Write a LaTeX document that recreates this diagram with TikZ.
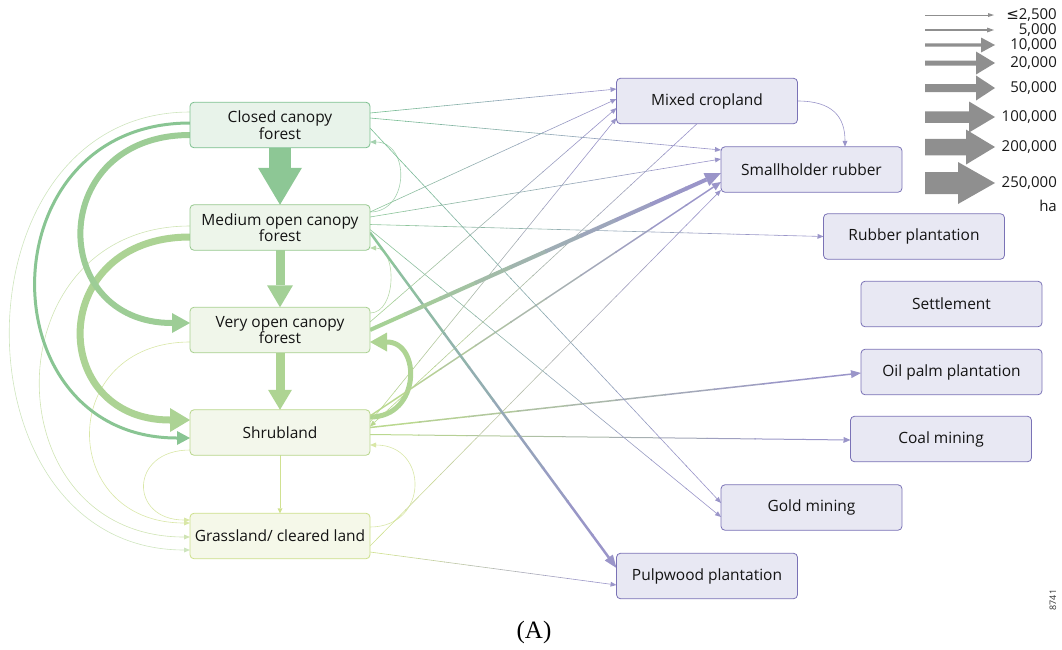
\documentclass[tikz,border=0pt]{standalone}
\usepackage{fontspec}
\setmainfont{Open Sans}
\newfontfamily\dejavu{DejaVu Sans}
\newfontfamily\serifA{Liberation Serif}
\usetikzlibrary{arrows.meta,calc}
\pgfdeclarelayer{bg}
\pgfsetlayers{bg,main}

\definecolor{purp}{HTML}{9A95C9}
\definecolor{pborder}{HTML}{7A72B6}
\definecolor{pfill}{HTML}{E8E8F3}
\definecolor{ccB}{HTML}{7CC08F}\definecolor{ccF}{HTML}{E8F3EA}
\definecolor{moB}{HTML}{96C88E}\definecolor{moF}{HTML}{EDF5EA}
\definecolor{voB}{HTML}{A8D08F}\definecolor{voF}{HTML}{F0F6EA}
\definecolor{shB}{HTML}{B8D68B}\definecolor{shF}{HTML}{F3F7EB}
\definecolor{glB}{HTML}{CCDF8A}\definecolor{glF}{HTML}{F5F8E9}
\definecolor{ccL}{HTML}{79BE94}
\definecolor{moL}{HTML}{8DC59B}
\definecolor{voL}{HTML}{A6D196}
\definecolor{shL}{HTML}{BAD88F}
\definecolor{glL}{HTML}{D0E191}
\definecolor{legG}{HTML}{8F8F8F}

% gradient straight connector: start, end, width, tip length, tip width, colour from, colour to
\newcommand\gline[7]{%
  \foreach \i in {0,...,8}{%
    \pgfmathsetmacro\ta{0.1*\i}%
    \pgfmathsetmacro\tb{0.1*\i+0.103}%
    \pgfmathtruncatemacro\pc{100-12*\i}%
    \draw[line width=#3,draw={#6!\pc!#7}] ($(#1)!\ta!(#2)$) -- ($(#1)!\tb!(#2)$);}%
  \draw[line width=#3,draw=#7,-{Triangle[length=#4,width=#5,line width=0pt]}] ($(#1)!0.9!(#2)$) -- (#2);}
% curved connector: start, end, horizontal offset of controls, width, tip length, tip width, colour
\newcommand\gcurve[7]{%
  \draw[line width=#4,draw=#7,-{Triangle[length=#5,width=#6,line width=0pt]}]
    (#1) .. controls ($(#1)+(#3,0)$) and ($(#2)+(#3,0)$) .. (#2);}
% legend arrow: y, shaft, head length, head width
\newcommand\legarrow[4]{%
  \fill[legG] (925,#1-#2/2) -- (995-#3,#1-#2/2) -- (995-#3,#1-#4/2) -- (995,#1)
    -- (995-#3,#1+#4/2) -- (995-#3,#1+#2/2) -- (925,#1+#2/2) -- cycle;}

\begin{document}
\begin{tikzpicture}[x=1pt,y=-1pt,
  lbox/.style={draw, rounded corners=4pt, minimum width=180pt, minimum height=45.5pt,
    inner sep=0pt, outer sep=0pt, align=center, line width=0.8pt,
    font=\fontsize{15.5}{13.5}\selectfont, text=black!92},
  rbox/.style={lbox, draw=pborder, fill=pfill, minimum width=181pt},
  legtxt/.style={anchor=east, inner sep=0pt, font=\fontsize{15}{15}\selectfont, text=black!90}]
\useasboundingbox (0,0) rectangle (1062,649);

% land-cover boxes
\node[lbox, draw=ccB, fill=ccF] (cc) at (280,125) {Closed canopy\\forest};
\node[lbox, draw=moB, fill=moF] (mo) at (280,227.5) {Medium open canopy\\forest};
\node[lbox, draw=voB, fill=voF] (vo) at (280,330) {Very open canopy\\forest};
\node[lbox, draw=shB, fill=shF] (sh) at (280,432.5) {Shrubland};
\node[lbox, draw=glB, fill=glF] (gl) at (280,536) {Grassland/ cleared land};

% land-use boxes
\node[rbox] (mc) at (707,101) {Mixed cropland};
\node[rbox] (sr) at (811.5,169.5) {Smallholder rubber};
\node[rbox] (rp) at (914,236.5) {Rubber plantation};
\node[rbox] (se) at (951.5,304) {Settlement};
\node[rbox] (op) at (951.5,372) {Oil palm plantation};
\node[rbox] (cm) at (941,439) {Coal mining};
\node[rbox] (gm) at (811.5,507.5) {Gold mining};
\node[rbox] (pp) at (707,576) {Pulpwood plantation};

% connector end points
\coordinate (l1a) at ($(cc.east)+(0,-12)$);   \coordinate (l1b) at ($(mc.west)+(0,-12)$);
\coordinate (l2a) at ($(mo.east)+(0,-15.5)$); \coordinate (l2b) at ($(mc.west)+(0,-2)$);
\coordinate (l3a) at ($(vo.east)+(0,-8)$);    \coordinate (l3b) at ($(mc.west)+(0,7)$);
\coordinate (l4a) at ($(sh.east)+(0,-10.5)$); \coordinate (l4b) at ($(mc.west)+(0,17)$);
\coordinate (l5a) at ($(cc.east)+(0,-7)$);    \coordinate (l5b) at ($(sr.west)+(0,-19.5)$);
\coordinate (l6a) at ($(mo.east)+(0,-10.5)$); \coordinate (l6b) at ($(sr.west)+(0,-10.5)$);
\coordinate (l7a) at ($(vo.east)+(0,0)$);     \coordinate (l7b) at ($(sr.west)+(0,3.5)$);
\coordinate (l8a) at ($(sh.east)+(0,-16.5)$); \coordinate (l8b) at ($(sr.west)+(0,12.5)$);
\coordinate (l9a) at ($(gl.east)+(0,10)$);    \coordinate (l9b) at ($(sr.west)+(0,20.5)$);
\coordinate (l10a) at ($(mo.east)+(0,-3)$);   \coordinate (l10b) at ($(rp.west)+(0,0)$);
\coordinate (l11a) at ($(sh.east)+(0,-5)$);   \coordinate (l11b) at ($(op.west)+(0,1)$);
\coordinate (l12a) at ($(sh.east)+(0,2)$);    \coordinate (l12b) at ($(cm.west)+(0,1)$);
\coordinate (l13a) at ($(cc.east)+(0,3)$);    \coordinate (l13b) at ($(gm.west)+(0,-4.5)$);
\coordinate (l14a) at ($(mo.east)+(0,2)$);    \coordinate (l14b) at ($(gm.west)+(0,9.5)$);
\coordinate (l15a) at ($(mo.east)+(0,5)$);    \coordinate (l15b) at ($(pp.west)+(0,-8)$);
\coordinate (l16a) at ($(gl.east)+(0,16)$);   \coordinate (l16b) at ($(pp.west)+(0,9)$);
\coordinate (l17a) at ($(mc.south)+(-10,0)$); \coordinate (l17b) at ($(sh.east)+(0,-6)$);
\coordinate (msa) at (mc.east);               \coordinate (msb) at ($(sr.north)+(33.5,0)$);

\coordinate (ha) at ($(mo.east)+(0,-15.5)$);  \coordinate (hb) at ($(cc.east)+(0,17)$);
\coordinate (ia) at ($(vo.east)+(0,-17)$);    \coordinate (ib) at ($(mo.east)+(0,20.5)$);
\coordinate (ja) at ($(sh.east)+(0,-15.5)$);  \coordinate (jb) at ($(vo.east)+(0,12)$);
\coordinate (ka) at ($(gl.east)+(0,-9)$);     \coordinate (kb) at ($(sh.east)+(0,12.5)$);

\coordinate (aa) at ($(cc.west)+(0,10)$);     \coordinate (ab) at ($(vo.west)+(0,-7)$);
\coordinate (ba) at ($(cc.west)+(0,-2)$);     \coordinate (bb) at ($(sh.west)+(0,5.5)$);
\coordinate (ca) at ($(cc.west)+(0,-13)$);    \coordinate (cb) at ($(gl.west)+(0,14)$);
\coordinate (da) at ($(mo.west)+(0,9.5)$);    \coordinate (db) at ($(sh.west)+(0,-12.5)$);
\coordinate (ea) at ($(mo.west)+(0,-1.5)$);   \coordinate (eb) at ($(gl.west)+(0,1)$);
\coordinate (fa) at ($(vo.west)+(0,12)$);     \coordinate (fb) at ($(gl.west)+(0,-13)$);
\coordinate (ga) at ($(sh.west)+(0,17.5)$);   \coordinate (gb) at ($(gl.west)+(0,-16)$);

\begin{pgfonlayer}{bg}
% vertical flows
\draw[line width=22pt, draw=ccL!55!voL, -{Triangle[length=37pt,width=44pt,line width=0pt]}] (cc.south) -- (mo.north);
\draw[line width=9pt, draw=voL!90!moL, -{Triangle[length=22pt,width=26pt,line width=0pt]}] (mo.south) -- (vo.north);
\draw[line width=9pt, draw=voL!60!shL, -{Triangle[length=20pt,width=24pt,line width=0pt]}] (vo.south) -- (sh.north);
\draw[line width=0.8pt, draw=glL, -{Triangle[length=5pt,width=5pt,line width=0pt]}] (sh.south) -- (gl.north);

% left curves
\gcurve{ca}{cb}{-240}{0.6pt}{6pt}{5pt}{glL!60!ccL!60!white}
\gcurve{ea}{eb}{-200}{0.6pt}{6pt}{5pt}{glL!70!moL!70!white}
\gcurve{fa}{fb}{-133}{0.6pt}{6pt}{5pt}{glL!80!white}
\gcurve{ga}{gb}{-61}{0.6pt}{6pt}{5pt}{glL!80!white}
\gcurve{ba}{bb}{-205}{3pt}{13pt}{14pt}{ccL!75!shL}
\gcurve{da}{db}{-143}{7pt}{20pt}{24pt}{voL!70!shL}
\gcurve{aa}{ab}{-143}{6pt}{18pt}{20pt}{voL!80!ccL}

% right curves
\gcurve{ha}{hb}{40}{0.6pt}{6pt}{5pt}{moL!80!white}
\gcurve{ia}{ib}{27}{0.6pt}{6pt}{5pt}{voL!80!white}
\gcurve{ka}{kb}{59}{0.6pt}{6pt}{5pt}{glL!80!white}
\gcurve{ja}{jb}{51}{5pt}{17pt}{19pt}{voL!60!shL}

\draw[line width=0.6pt, draw=purp, -{Triangle[length=6pt,width=5pt,line width=0pt]}]
  (msa) .. controls ($(msa)+(35,0)$) and ($(msb)+(0,-30)$) .. (msb);

% straight flows to land uses
\gline{l1a}{l1b}{0.6pt}{6pt}{5pt}{ccL}{purp}
\gline{l2a}{l2b}{0.6pt}{6pt}{5pt}{moL}{purp}
\gline{l3a}{l3b}{0.6pt}{6pt}{5pt}{voL}{purp}
\gline{l4a}{l4b}{0.6pt}{6pt}{5pt}{shL}{purp}
\gline{l5a}{l5b}{0.6pt}{6pt}{5pt}{ccL}{purp}
\gline{l6a}{l6b}{0.6pt}{6pt}{5pt}{moL}{purp}
\gline{l8a}{l8b}{1.5pt}{9pt}{8pt}{shL}{purp}
\gline{l9a}{l9b}{0.6pt}{6pt}{5pt}{glL}{purp}
\gline{l10a}{l10b}{0.6pt}{6pt}{5pt}{moL}{purp}
\gline{l11a}{l11b}{1.5pt}{10pt}{8pt}{shL}{purp}
\gline{l12a}{l12b}{1pt}{7pt}{6pt}{shL}{purp}
\gline{l13a}{l13b}{0.6pt}{6pt}{5pt}{ccL}{purp}
\gline{l14a}{l14b}{0.6pt}{6pt}{5pt}{moL}{purp}
\gline{l16a}{l16b}{0.6pt}{6pt}{5pt}{glL}{purp}
\gline{l17a}{l17b}{0.6pt}{6pt}{5pt}{purp}{shL}
\gline{l15a}{l15b}{2.5pt}{13pt}{10pt}{moL}{purp}
\gline{l7a}{l7b}{4pt}{16pt}{14pt}{voL}{purp}
\end{pgfonlayer}

% legend
\draw[legG, line width=0.7pt, -{Triangle[length=6pt,width=4pt,line width=0pt]}] (925,15) -- (994,15);
\draw[legG, line width=1.2pt, -{Triangle[length=7pt,width=5pt,line width=0pt]}] (925,30) -- (994,30);
\legarrow{45}{3.3}{14}{15}
\legarrow{63}{5}{19}{23}
\legarrow{88}{8}{19}{25}
\legarrow{117}{11.5}{26}{31}
\legarrow{147}{16.5}{29}{35}
\legarrow{183}{22}{37}{42}
\node[legtxt] (lg1) at (1057,15) {{\dejavu ≤}2,500};
\node[legtxt] (lg2) at (1057,30) {5,000};
\node[legtxt] (lg3) at (1057,45) {10,000};
\node[legtxt] (lg4) at (1057,63) {20,000};
\node[legtxt] (lg5) at (1057,88) {50,000};
\node[legtxt] (lg6) at (1057,117) {100,000};
\node[legtxt] (lg7) at (1057,147) {200,000};
\node[legtxt] (lg8) at (1057,183) {250,000};
\node[legtxt] (lg9) at (1057,206) {ha};

\node[font=\serifA\fontsize{25}{25}\selectfont] (cap) at (534,632) {(A)};
\node[font=\fontsize{9}{9}\selectfont, rotate=90, text=black!80] (num) at (1053,600) {8741};
\end{tikzpicture}
\end{document}
